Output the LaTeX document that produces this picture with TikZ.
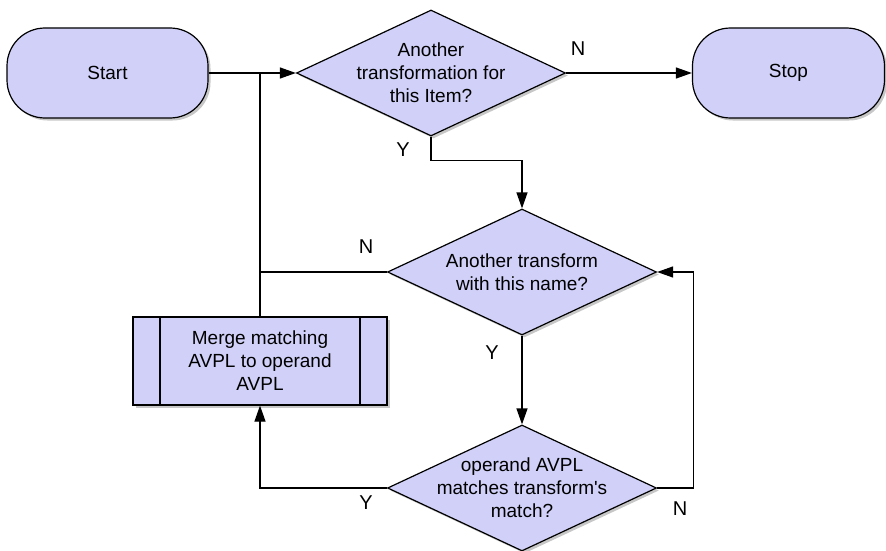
\documentclass[tikz,border=0pt]{standalone}
\usepackage{fontspec}
\setmainfont{Liberation Sans}
\usepackage{tikz}
\usetikzlibrary{arrows.meta, calc, positioning, shapes.geometric, shadows}
\usepackage{xcolor}
\definecolor{boxfill}{RGB}{208,208,248}

\tikzset{
    txt/.style={font=\fontsize{19}{23}\selectfont, align=center},
    base/.style={draw=black, line width=1.2pt, fill=boxfill,
        drop shadow={shadow xshift=2.5pt, shadow yshift=-2.5pt, fill=black, opacity=0.22}},
    terminal/.style={base, txt, rectangle, rounded corners=38pt, minimum width=201pt, minimum height=90pt},
    decision/.style={base, diamond, minimum width=269pt, minimum height=126pt, inner sep=0pt},
    process/.style={base, txt, rectangle, minimum width=254pt, minimum height=88pt,
        path picture={
            \draw[line width=1.2pt] ([xshift=27pt]path picture bounding box.north west) -- ([xshift=27pt]path picture bounding box.south west);
            \draw[line width=1.2pt] ([xshift=-27pt]path picture bounding box.north east) -- ([xshift=-27pt]path picture bounding box.south east);
        }},
    line/.style={line width=1.2pt},
    arr/.style={line, -{Triangle[length=16pt, width=11pt]}},
    yn/.style={font=\fontsize{20}{24}\selectfont}
}

\begin{document}
\begin{tikzpicture}[x=1pt, y=-1pt]
    \useasboundingbox (0,0) rectangle (886,551);

    % 起止
    \node[terminal] (start) at (107.5, 73) {Start};
    \node[terminal, minimum width=192pt] (stop) at (788.5, 73) {Stop};

    % 判断
    \node[decision, label={[txt]center:{Another\\transformation for\\this Item?}}] (item) at (431, 73) {};
    \node[decision, label={[txt]center:{Another transform\\with this name?}}] (name) at (522, 272) {};
    \node[decision, label={[txt]center:{operand AVPL\\matches transform\textquotesingle s\\match?}}] (match) at (522, 488) {};

    % 合并
    \node[process] (merge) at (260, 361) {Merge matching\\AVPL to operand\\AVPL};

    \coordinate (join) at (merge.north |- start.east);

    % 连线
    \draw[arr] (start.east) -- (item.west);
    \draw[line] (merge.north) -- (join);
    \draw[line] (name.west) -- (name.west -| merge.north);
    \draw[arr] (item.east) -- (stop.west);
    \draw[arr] (item.south) -- ++(0, 24) -| (name.north);
    \draw[arr] (name.south) -- (match.north);
    \draw[arr] (match.east) -- ++(36, 0) |- (name.east);
    \draw[arr] (match.west) -| (merge.south);

    % Y / N
    \node[yn] (itemY) at (403, 150) {Y};
    \node[yn] (itemN) at (578, 49) {N};
    \node[yn] (nameN) at (366, 247) {N};
    \node[yn] (nameY) at (492, 353) {Y};
    \node[yn] (matchN) at (680, 509) {N};
    \node[yn] (matchY) at (366, 503) {Y};
\end{tikzpicture}
\end{document}
